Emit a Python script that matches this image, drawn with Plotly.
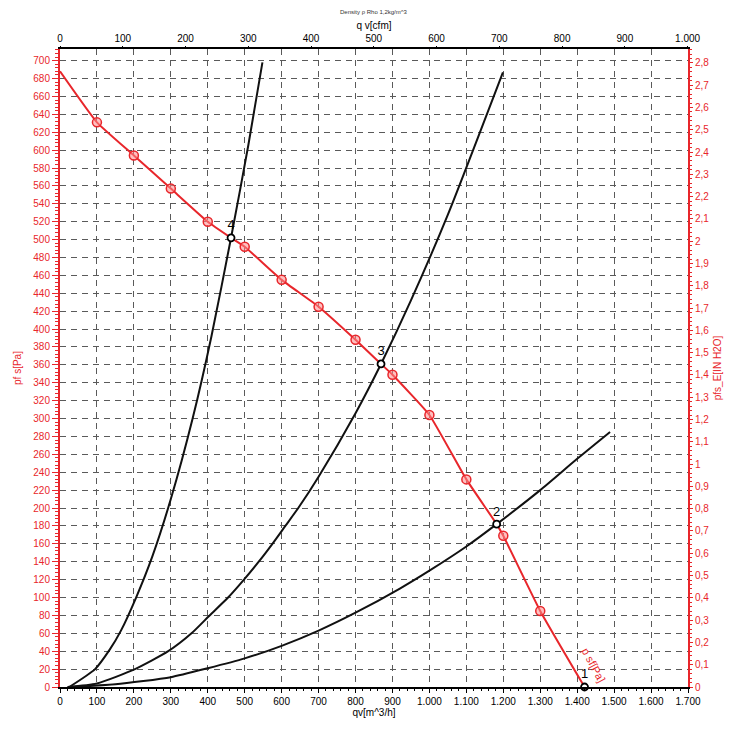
import plotly.graph_objects as go

# ---------------- data ----------------
# Fan characteristic p_fs vs q_v  (m^3/h, Pa)
fan_q = [0, 100, 200, 300, 400, 463, 500, 600, 700, 800, 869, 900, 1000, 1100, 1182, 1200, 1300, 1420]
fan_p = [688, 631, 594, 557, 520, 502, 492, 455, 425, 388, 361, 349, 304, 232, 182, 169, 85, 0]
# measured points shown with circle markers
fan_mark_q = [100, 200, 300, 400, 500, 600, 700, 800, 900, 1000, 1100, 1200, 1300]
fan_mark_p = [631, 594, 557, 520, 492, 455, 425, 388, 349, 304, 232, 169, 85]

# System (installation) curves
sys4_q = [25, 95, 135, 165, 206, 250, 300, 359, 410, 463, 510, 548]
sys4_p = [0, 20, 42, 63, 100, 146, 210, 300, 392, 502, 606, 698]
sys3_q = [20, 100, 203, 293, 356, 405, 455, 498, 538, 575, 610, 645, 700, 800, 869, 950, 1050, 1199]
sys3_p = [0, 4, 20, 40, 60, 80, 100, 120, 140, 160, 180, 200, 235, 306, 361, 432, 528, 687]
sys2_q = [30, 150, 300, 400, 500, 600, 700, 800, 920, 1000, 1100, 1182, 1300, 1400, 1489]
sys2_p = [0, 3, 11, 21, 32, 46, 63, 83, 110, 130, 157, 182, 220, 255, 285]

# Operating points
op_q = [1420, 1182, 869, 463]
op_p = [0, 182, 361, 502]
op_labels = ["1", "2", "3", "4"]

# Axis ticks
x_tickvals = [0, 100, 200, 300, 400, 500, 600, 700, 800, 900, 1000, 1100, 1200, 1300, 1400, 1500, 1600, 1700]
x_ticktext = ["0", "100", "200", "300", "400", "500", "600", "700", "800", "900",
              "1.000", "1.100", "1.200", "1.300", "1.400", "1.500", "1.600", "1.700"]
cfm_tickvals = [0, 100, 200, 300, 400, 500, 600, 700, 800, 900, 1000]
cfm_ticktext = ["0", "100", "200", "300", "400", "500", "600", "700", "800", "900", "1.000"]
in_tickvals = [0, 0.1, 0.2, 0.3, 0.4, 0.5, 0.6, 0.7, 0.8, 0.9, 1.0, 1.1, 1.2, 1.3, 1.4,
               1.5, 1.6, 1.7, 1.8, 1.9, 2.0, 2.1, 2.2, 2.3, 2.4, 2.5, 2.6, 2.7, 2.8]
in_ticktext = ["0", "0,1", "0,2", "0,3", "0,4", "0,5", "0,6", "0,7", "0,8", "0,9", "1",
               "1,1", "1,2", "1,3", "1,4", "1,5", "1,6", "1,7", "1,8", "1,9", "2",
               "2,1", "2,2", "2,3", "2,4", "2,5", "2,6", "2,7", "2,8"]

M3H_PER_CFM = 1.699
PA_PER_INH2O = 249.09
Q_MAX = 1700
P_MAX = 713

RED = "#e8262b"
GRID = "#5a5a5a"
FONT = "Liberation Sans"

fig = go.Figure()

for q, p in [(sys4_q, sys4_p), (sys3_q, sys3_p), (sys2_q, sys2_p)]:
    fig.add_trace(go.Scatter(x=q, y=p, mode="lines",
                             line=dict(color="#111111", width=2, shape="spline", smoothing=0.6),
                             hoverinfo="skip"))

fig.add_trace(go.Scatter(x=fan_q, y=fan_p, mode="lines",
                         line=dict(color=RED, width=2, shape="spline", smoothing=0.4),
                         hoverinfo="skip"))
fig.add_trace(go.Scatter(x=fan_mark_q, y=fan_mark_p, mode="markers",
                         marker=dict(symbol="circle", size=9, color="rgba(255,140,140,0.55)",
                                     line=dict(color=RED, width=1.5)),
                         hoverinfo="skip"))

fig.add_trace(go.Scatter(x=op_q, y=op_p, mode="markers+text", text=op_labels,
                         textposition="top center",
                         textfont=dict(family=FONT, size=13, color="black"),
                         marker=dict(symbol="circle", size=7, color="white",
                                     line=dict(color="black", width=1.8)),
                         cliponaxis=False, hoverinfo="skip"))

# invisible trace on the secondary axes (cfm / in H2O)
fig.add_trace(go.Scatter(x=[v / M3H_PER_CFM for v in op_q], y=[v / PA_PER_INH2O for v in op_p],
                         xaxis="x2", yaxis="y2", mode="markers",
                         marker=dict(opacity=0), hoverinfo="skip"))

# curve label near the end of the fan curve
fig.add_annotation(x=fan_q[-1], y=fan_p[-1], text="p sf[Pa]", showarrow=False,
                   textangle=62, xshift=9, yshift=22,
                   font=dict(family=FONT, size=11, color=RED))

# tiny header
fig.add_annotation(x=0.5, y=1, xref="paper", yref="paper", yanchor="bottom",
                   yshift=32, text="Density ρ Rho 1,2kg/m^3", showarrow=False,
                   font=dict(family=FONT, size=6, color="#333"))

# page body has an 8px margin -> compensate so the plot area sits at x 60..688, y 49..687
fig.update_layout(
    width=734, height=720,
    margin=dict(l=52, r=54, t=41, b=41),
    plot_bgcolor="white", paper_bgcolor="white",
    showlegend=False,
    font=dict(family=FONT, size=10, color="black"),
    xaxis=dict(range=[0, Q_MAX], tickvals=x_tickvals, ticktext=x_ticktext, automargin=False,
               showgrid=True, gridcolor=GRID, griddash="6px,5px", gridwidth=1,
               showline=True, linecolor="black", linewidth=2, zeroline=False,
               ticks="outside", ticklen=4, tickcolor="black", tickwidth=1,
               tickfont=dict(family=FONT, size=10, color="black"),
               minor=dict(dtick=20, ticklen=2, tickcolor="black", ticks="outside", showgrid=False),
               title=dict(text="qv[m^3/h]", standoff=1, font=dict(family=FONT, size=10, color="black"))),
    xaxis2=dict(overlaying="x", side="top", anchor="y", range=[0, Q_MAX / M3H_PER_CFM], automargin=False,
                tickvals=cfm_tickvals, ticktext=cfm_ticktext,
                showgrid=False, showline=True, linecolor="black", linewidth=2, zeroline=False,
                ticks="outside", ticklen=1, tickcolor="black",
                tickfont=dict(family=FONT, size=10, color="black"),
                title=dict(text="q v[cfm]", standoff=2, font=dict(family=FONT, size=10, color="black"))),
    yaxis=dict(range=[0, P_MAX], dtick=20, tick0=0, automargin=False,
               showgrid=True, gridcolor=GRID, griddash="6px,5px", gridwidth=1,
               showline=True, linecolor=RED, linewidth=2, zeroline=False,
               ticks="outside", ticklen=6, tickcolor=RED,
               tickfont=dict(family=FONT, size=10, color=RED),
               minor=dict(dtick=4, ticklen=3, tickcolor=RED, ticks="outside", showgrid=False),
               title=dict(text="pf s[Pa]", standoff=10, font=dict(family=FONT, size=10, color=RED))),
    yaxis2=dict(overlaying="y", side="right", anchor="x", range=[0, P_MAX / PA_PER_INH2O], automargin=False,
                tickvals=in_tickvals, ticktext=in_ticktext,
                showgrid=False, showline=True, linecolor=RED, linewidth=2, zeroline=False,
                ticks="outside", ticklen=3, tickcolor=RED,
                tickfont=dict(family=FONT, size=10, color=RED),
                minor=dict(dtick=0.02, ticklen=2, tickcolor=RED, ticks="outside", showgrid=False),
                title=dict(text="pfs_E[IN H2O]", standoff=6, font=dict(family=FONT, size=10, color=RED))),
)

fig.write_html("out.html")
